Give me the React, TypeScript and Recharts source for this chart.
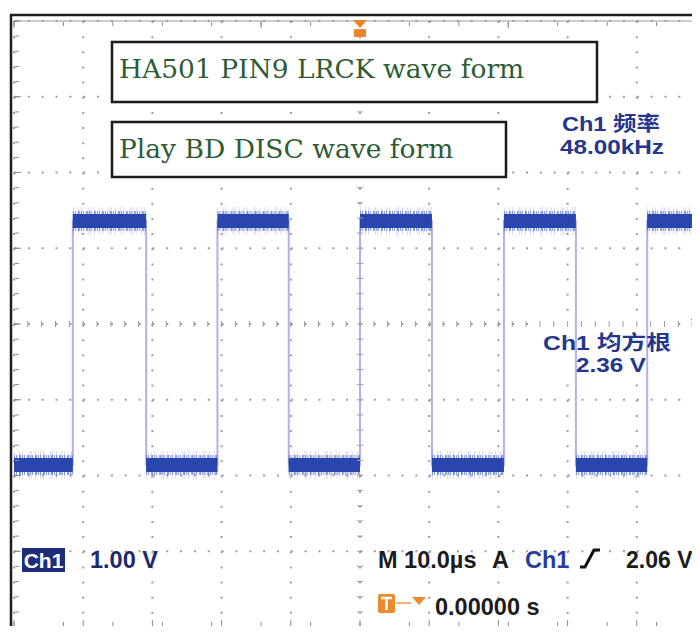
import {
  CartesianGrid,
  ComposedChart,
  Line,
  ReferenceDot,
  Scatter,
  XAxis,
  YAxis,
} from "recharts";

// graticule: 10 µs/div across, 1.00 V/div down, 5 minor steps per div
const timeMajor = [0, 10, 20, 30, 40, 50, 60, 70, 80, 90, 100];
const timeMinor = [
  0, 2, 4, 6, 8, 10, 12, 14, 16, 18, 20, 22, 24, 26, 28, 30, 32, 34, 36, 38, 40, 42, 44, 46, 48, 50,
  52, 54, 56, 58, 60, 62, 64, 66, 68, 70, 72, 74, 76, 78, 80, 82, 84, 86, 88, 90, 92, 94, 96, 98, 100,
];
const voltMajor = [-2, -1, 0, 1, 2, 3, 4, 5, 6];
const voltMinor = [
  -2, -1.8, -1.6, -1.4, -1.2, -1, -0.8, -0.6, -0.4, -0.2, 0, 0.2, 0.4, 0.6, 0.8, 1, 1.2, 1.4, 1.6,
  1.8, 2, 2.2, 2.4, 2.6, 2.8, 3, 3.2, 3.4, 3.6, 3.8, 4, 4.2, 4.4, 4.6, 4.8, 5, 5.2, 5.4, 5.6, 5.8, 6,
];

// LRCK trace (µs), alternating rise / fall
const edgeTimes = [8.5, 19.1, 29.4, 39.7, 50.0, 60.4, 70.8, 81.2, 91.5];
const lowLevel = 0.14;
const highLevel = 3.36;
const triggerTime = 50;
const triggerLevel = 2.06;

const titleLines = ["HA501 PIN9 LRCK wave form", "Play BD DISC wave form"];
const freqLabel = ["Ch1 频率", "48.00kHz"];
const rmsLabel = ["Ch1 均方根", "2.36 V"];

type Pt = { t: number; v: number | null; band: number | null };
const trace: Pt[] = [];
{
  let level = lowLevel;
  trace.push({ t: 0, v: level, band: level });
  edgeTimes.forEach((e) => {
    const next = level === lowLevel ? highLevel : lowLevel;
    trace.push({ t: e, v: level, band: level });
    trace.push({ t: e, v: null, band: null });
    trace.push({ t: e, v: next, band: next });
    level = next;
  });
  trace.push({ t: 100, v: level, band: level });
}

const centerXTicks = timeMinor.map((t) => ({ t, v: 2 }));
const centerYTicks = voltMinor.map((v) => ({ t: 50, v }));

const GRID = "#9d9d9d";
const NAVY = "#24378c";
const sans = '"Liberation Sans", Arial, "Noto Sans CJK SC", sans-serif';

const EmptyTick = () => <g />;
const vTick = (p: any) => (
  <line x1={p.cx} x2={p.cx} y1={p.cy - 3} y2={p.cy + 3} stroke={GRID} strokeWidth={1} />
);
const hTick = (p: any) => (
  <line x1={p.cx - 3} x2={p.cx + 3} y1={p.cy} y2={p.cy} stroke={GRID} strokeWidth={1} />
);

function Scope() {
  const axis = {
    type: "number" as const,
    allowDataOverflow: true,
    mirror: true,
    tick: EmptyTick,
    interval: 0 as const,
    axisLine: false,
    tickLine: { stroke: "#8c8c8c" },
  };
  const xDom: [number, number] = [0, 100];
  const yDom: [number, number] = [-2, 6];
  return (
    <ComposedChart
      width={720}
      height={634}
      data={trace}
      margin={{ top: 21, right: 14, bottom: 7, left: 14 }}
    >
      <XAxis {...axis} dataKey="t" domain={xDom} ticks={timeMajor} tickSize={7} height={1} />
      <XAxis {...axis} xAxisId="bm" domain={xDom} ticks={timeMinor} tickSize={4} height={1} />
      <XAxis
        {...axis}
        xAxisId="t1"
        orientation="top"
        domain={xDom}
        ticks={timeMajor}
        tickSize={7}
        height={1}
        axisLine={{ stroke: "#9a9a9a" }}
      />
      <XAxis {...axis} xAxisId="t2" orientation="top" domain={xDom} ticks={timeMinor} tickSize={4} height={1} />
      <YAxis {...axis} dataKey="v" domain={yDom} ticks={voltMajor} tickSize={7} width={1} />
      <YAxis {...axis} yAxisId="lm" domain={yDom} ticks={voltMinor} tickSize={4} width={1} />

      <CartesianGrid horizontal vertical={false} stroke={GRID} strokeWidth={2} strokeDasharray="2 11.84" />
      <CartesianGrid horizontal={false} vertical stroke={GRID} strokeWidth={2} strokeDasharray="2 13.15" />

      <Scatter data={centerXTicks} dataKey="v" shape={vTick} isAnimationActive={false} />
      <Scatter data={centerYTicks} dataKey="v" shape={hTick} isAnimationActive={false} />

      <rect x={552} y={104} width={122} height={58} fill="#fff" />
      <rect x={540} y={322} width={136} height={54} fill="#fff" />

      <Line dataKey="v" stroke="#b2b1e8" strokeWidth={2} dot={false} activeDot={false} connectNulls isAnimationActive={false} />
      <Line
        dataKey="band"
        stroke="#7d8bd9"
        strokeOpacity={0.3}
        strokeWidth={28}
        strokeDasharray="1 4 1 2 1 6 1 1 1 3"
        dot={false}
        activeDot={false}
        isAnimationActive={false}
      />
      <Line
        dataKey="band"
        stroke="#4a63c6"
        strokeOpacity={0.65}
        strokeWidth={20}
        strokeDasharray="1 1 1 2 2 1"
        dot={false}
        activeDot={false}
        isAnimationActive={false}
      />
      <Line dataKey="band" stroke="#2946af" strokeWidth={14} dot={false} activeDot={false} isAnimationActive={false} />

      <ReferenceDot
        x={triggerTime}
        y={6}
        shape={(p: any) => (
          <g fill="#e9862c">
            <polygon points={`${p.cx - 7},${p.cy - 1} ${p.cx + 7},${p.cy - 1} ${p.cx},${p.cy + 7}`} />
            <rect x={p.cx - 6} y={p.cy + 8} width={12} height={8} rx={1} />
          </g>
        )}
      />
      <ReferenceDot
        x={100}
        y={triggerLevel}
        shape={(p: any) => (
          <polygon
            points={`${p.cx - 15},${p.cy} ${p.cx - 5},${p.cy - 6} ${p.cx - 5},${p.cy + 6}`}
            fill={NAVY}
          />
        )}
      />
    </ComposedChart>
  );
}

function Readouts() {
  const serif = { fontFamily: '"DejaVu Serif", serif', fontSize: 26.5, fill: "#2d5c33" };
  const bold = { fontFamily: sans, fontSize: 23.5, fontWeight: 700 };
  const label = { fontFamily: sans, fontSize: 20, fontWeight: 700, lengthAdjust: "spacingAndGlyphs" as const };
  return (
    <svg width={700} height={634} style={{ position: "absolute", left: 0, top: 0 }}>
      <path d="M11 634 V15 H700" fill="none" stroke="#1e1e1e" strokeWidth={2.5} />
      <path d="M11 631.5 H700" fill="none" stroke="#1e1e1e" strokeWidth={2} />

      <rect x={112} y={42} width={485} height={60} fill="#fff" stroke="#1b1b1b" strokeWidth={2.5} />
      <text x={119} y={78} {...serif}>{titleLines[0]}</text>
      <rect x={112} y={122} width={394} height={55} fill="#fff" stroke="#1b1b1b" strokeWidth={2.5} />
      <text x={119} y={158} {...serif}>{titleLines[1]}</text>

      <g fill={NAVY} textAnchor="middle">
        <text x={611} y={131} {...label} textLength={98}>{freqLabel[0]}</text>
        <text x={612} y={154} {...label} textLength={104}>{freqLabel[1]}</text>
        <text x={607} y={350} {...label} textLength={128}>{rmsLabel[0]}</text>
        <text x={611} y={372} {...label} textLength={70}>{rmsLabel[1]}</text>
      </g>

      <rect x={22} y={548} width={43} height={24} fill="#1d2d78" />
      <text x={43.5} y={568} {...bold} fontSize={21} fill="#fff" textAnchor="middle">Ch1</text>
      <text x={90} y={568} {...bold} fill="#1c2a6e">1.00 V</text>

      <g {...bold} fill="#1c1c1c">
        <text x={378} y={568}>M 10.0µs</text>
        <text x={492} y={568}>A</text>
        <text x={525} y={568} fill="#2a3c9a">Ch1</text>
        <text x={626} y={568} fontSize={23}>2.06 V</text>
        <text x={435} y={615}>0.00000 s</text>
      </g>
      <path d="M580 567 H585 L594 550 H600" fill="none" stroke="#111" strokeWidth={3} />

      <rect x={378} y={594} width={17} height={19} rx={2} fill="#ec8a2e" />
      <path d="M381 598 H392 M386.5 598 V610" stroke="#fff" strokeWidth={2.5} />
      <path d="M396 603 H411" stroke="#f2b27a" strokeWidth={2} />
      <polygon points="412,597 426,597 419,605" fill="#ec8a2e" />
    </svg>
  );
}

export default function App() {
  return (
    <div
      style={{
        position: "relative",
        width: 700,
        height: 634,
        margin: -8,
        overflow: "hidden",
        background: "#fff",
      }}
    >
      <div style={{ position: "absolute", left: 0, top: 0 }}>
        <Scope />
      </div>
      <Readouts />
    </div>
  );
}
